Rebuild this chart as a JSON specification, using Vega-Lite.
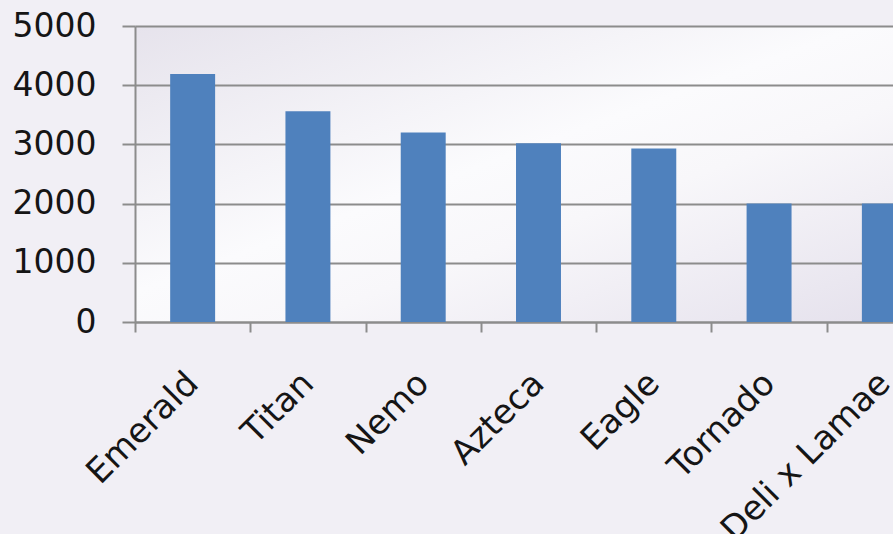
{
  "$schema": "https://vega.github.io/schema/vega-lite/v6.json",
  "width": 807,
  "height": 296,
  "autosize": "none",
  "padding": {"left": 135, "top": 26, "right": -49, "bottom": 212},
  "background": "#f1eff5",
  "data": {
    "values": [
      {"variety": "Emerald", "value": 4190},
      {"variety": "Titan", "value": 3560},
      {"variety": "Nemo", "value": 3200},
      {"variety": "Azteca", "value": 3020},
      {"variety": "Eagle", "value": 2930},
      {"variety": "Tornado", "value": 2000},
      {"variety": "Deli x Lamae", "value": 2000}
    ]
  },
  "mark": {"type": "bar", "color": "#4f81bd", "width": {"band": 0.39}},
  "encoding": {
    "x": {
      "field": "variety",
      "type": "nominal",
      "sort": null,
      "scale": {"paddingInner": 0, "paddingOuter": 0},
      "axis": {
        "title": null,
        "labelAngle": -45,
        "labelAlign": "right",
        "labelBaseline": "middle",
        "labelFont": "DejaVu Sans",
        "labelFontSize": 34,
        "labelColor": "#151515",
        "labelPadding": 46,
        "labelLimit": 1000,
        "labelOverlap": false,
        "tickBand": "extent",
        "tickSize": 10,
        "tickColor": "#8c8c8c",
        "tickWidth": 2,
        "domainColor": "#8c8c8c",
        "domainWidth": 2,
        "grid": false
      }
    },
    "y": {
      "field": "value",
      "type": "quantitative",
      "scale": {"domain": [0, 5000], "nice": false},
      "axis": {
        "title": null,
        "format": "d",
        "values": [0, 1000, 2000, 3000, 4000, 5000],
        "labelFont": "DejaVu Sans",
        "labelFontSize": 33,
        "labelColor": "#151515",
        "labelPadding": 26,
        "tickSize": 13,
        "tickColor": "#8c8c8c",
        "tickWidth": 2,
        "domainColor": "#8c8c8c",
        "domainWidth": 2,
        "grid": true,
        "gridColor": "#8c8c8c",
        "gridWidth": 2
      }
    }
  },
  "config": {
    "view": {
      "stroke": null,
      "fill": {
        "gradient": "linear",
        "x1": 0, "y1": 0, "x2": 1, "y2": 1,
        "stops": [
          {"offset": 0, "color": "#e6e3ec"},
          {"offset": 0.45, "color": "#fbfbfd"},
          {"offset": 0.6, "color": "#f8f7fa"},
          {"offset": 1, "color": "#e3dfeb"}
        ]
      }
    }
  }
}
